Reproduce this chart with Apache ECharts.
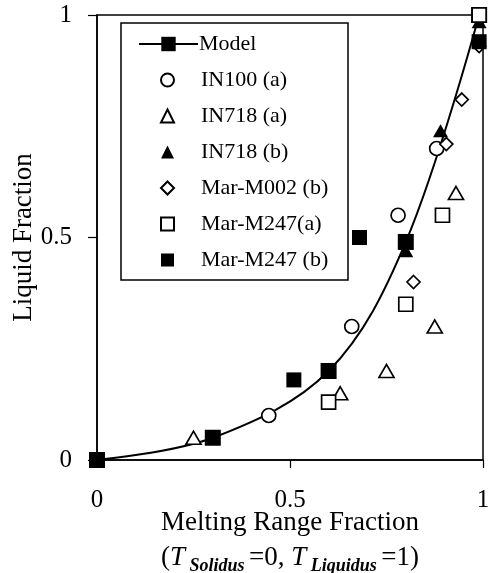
<!DOCTYPE html>
<html><head><meta charset="utf-8">
<script src="https://cdn.jsdelivr.net/npm/echarts@6/dist/echarts.min.js"></script>
<style>html,body{margin:0;padding:0;background:#fff}#c{width:491px;height:573px}</style>
</head><body><div id="c"></div>
<script>
// ---- data ----
const modelX = [0, 0.3, 0.6, 0.8, 0.99];
const modelY = [0, 0.05, 0.2, 0.49, 1.0];
const in100aX = [0.445, 0.66, 0.78, 0.88];
const in100aY = [0.10, 0.30, 0.55, 0.70];
const in718aX = [0.25, 0.63, 0.75, 0.875, 0.93];
const in718aY = [0.05, 0.15, 0.20, 0.30, 0.60];
const in718bX = [0.80, 0.89, 0.99];
const in718bY = [0.47, 0.74, 0.985];
const marM002bX = [0.82, 0.905, 0.945, 0.99];
const marM002bY = [0.40, 0.71, 0.81, 0.93];
const marM247aX = [0.60, 0.80, 0.895, 0.99];
const marM247aY = [0.13, 0.35, 0.55, 1.0];
const marM247bX = [0.51, 0.68, 0.99];
const marM247bY = [0.18, 0.50, 0.94];
const xTickLabels = ['0', '0.5', '1'];
const yTickLabels = ['0', '0.5', '1'];

const pts = (xs, ys) => xs.map((x, i) => [x, ys[i]]);
const FONT = "'Liberation Serif', 'Times New Roman', serif";
const labelFor = (arr) => (v) => { const i = Math.round(v / 0.5); return arr[i] !== undefined ? arr[i] : ''; };

const openStyle = { color: '#fff', borderColor: '#000', borderWidth: 1.7, opacity: 1 };
const fillStyle = { color: '#000', borderColor: '#000', borderWidth: 0, opacity: 1 };

const chart = echarts.init(document.getElementById('c'), null, { renderer: 'canvas' });
chart.setOption({
  animation: false,
  backgroundColor: '#fff',
  grid: { left: 97, right: 8, top: 15, bottom: 113, containLabel: false, outerBoundsMode: 'none',
          show: true, borderColor: '#000', borderWidth: 1.5, backgroundColor: 'transparent' },
  xAxis: {
    type: 'value', min: 0, max: 1, interval: 0.5,
    axisLine: { show: true, lineStyle: { color: '#000', width: 1.5 } },
    axisTick: { show: true, inside: false, length: 8, lineStyle: { color: '#000', width: 1.2 } },
    splitLine: { show: false },
    axisLabel: { color: '#000', fontSize: 25, fontFamily: FONT, margin: 28, formatter: labelFor(xTickLabels) },
    name: '{a|Melting Range Fraction}\n{b|(}{i|T}{s| Solidus }{b|=0, }{i|T}{s| Liquidus }{b|=1)}',
    nameLocation: 'middle', nameGap: 45, nameMoveOverlap: false,
    nameTextStyle: {
      color: '#000', fontFamily: FONT,
      rich: {
        a: { fontSize: 27, fontFamily: FONT, color: '#000', lineHeight: 35 },
        b: { fontSize: 27, fontFamily: FONT, color: '#000', lineHeight: 35 },
        i: { fontSize: 27, fontFamily: FONT, fontStyle: 'italic', color: '#000', lineHeight: 35 },
        s: { fontSize: 18, fontFamily: FONT, fontStyle: 'italic', fontWeight: 'bold', color: '#000', lineHeight: 35, verticalAlign: 'bottom', padding: [9, 0, 0, 0] }
      }
    }
  },
  yAxis: {
    type: 'value', min: 0, max: 1, interval: 0.5,
    axisLine: { show: true, lineStyle: { color: '#000', width: 1.5 } },
    axisTick: { show: true, inside: false, length: 9, lineStyle: { color: '#000', width: 1.2 } },
    splitLine: { show: false },
    axisLabel: { color: '#000', fontSize: 25, fontFamily: FONT, margin: 25, formatter: labelFor(yTickLabels) },
    name: 'Liquid Fraction', nameLocation: 'middle', nameGap: 60, nameMoveOverlap: false,
    nameTextStyle: { color: '#000', fontSize: 27, fontFamily: FONT }
  },
  graphic: [{
    type: 'rect', z: 3, shape: { x: 121, y: 23, width: 227, height: 257 },
    style: { fill: '#fff', stroke: '#000', lineWidth: 1.5 }
  }],
  legend: [{
    data: ['Model'], orient: 'vertical', left: 138, top: 33, padding: 0,
    itemWidth: 59, itemHeight: 18, selectedMode: false,
    textStyle: { color: '#000', fontSize: 22, fontFamily: FONT, lineHeight: 22, padding: [0, 0, 0, -4] }
  }, {
    data: ['IN100 (a)', 'IN718 (a)', 'IN718 (b)', 'Mar-M002 (b)', 'Mar-M247(a)', 'Mar-M247 (b)'],
    orient: 'vertical', left: 160, top: 69, padding: 0, itemGap: 14,
    itemWidth: 13, itemHeight: 13, selectedMode: false,
    textStyle: { color: '#000', fontSize: 22, fontFamily: FONT, lineHeight: 22, padding: [0, 0, 0, 22] }
  }],
  series: [
    { name: 'Model', type: 'line', data: pts(modelX, modelY), smooth: 0.35, symbol: 'rect', symbolSize: 16,
      lineStyle: { color: '#000', width: 2 }, itemStyle: fillStyle, z: 2 },
    { name: 'IN100 (a)', type: 'scatter', data: pts(in100aX, in100aY), symbol: 'circle', symbolSize: 14, itemStyle: openStyle, z: 3 },
    { name: 'IN718 (a)', type: 'scatter', data: pts(in718aX, in718aY), symbol: 'triangle', symbolSize: [15, 13], itemStyle: openStyle, z: 3 },
    { name: 'IN718 (b)', type: 'scatter', data: pts(in718bX, in718bY), symbol: 'triangle', symbolSize: [15, 13], itemStyle: fillStyle, z: 3 },
    { name: 'Mar-M002 (b)', type: 'scatter', data: pts(marM002bX, marM002bY), symbol: 'diamond', symbolSize: 13, itemStyle: openStyle, z: 3 },
    { name: 'Mar-M247(a)', type: 'scatter', data: pts(marM247aX, marM247aY), symbol: 'rect', symbolSize: 14, itemStyle: openStyle, z: 4 },
    { name: 'Mar-M247 (b)', type: 'scatter', data: pts(marM247bX, marM247bY), symbol: 'rect', symbolSize: 15, itemStyle: fillStyle, z: 3 }
  ]
});
</script>
</body></html>
